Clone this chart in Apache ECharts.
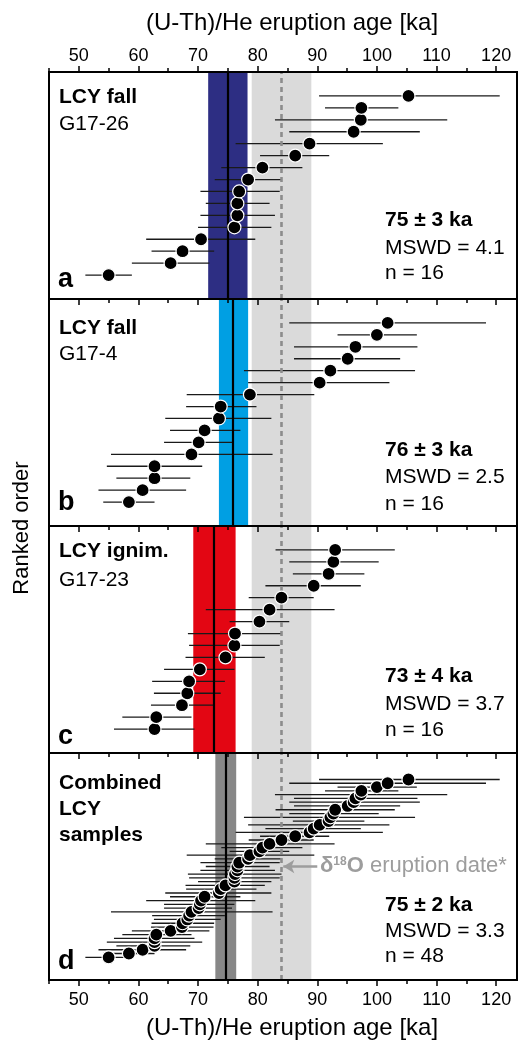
<!DOCTYPE html>
<html>
<head>
<meta charset="utf-8">
<script src="https://cdn.jsdelivr.net/npm/echarts@6/dist/echarts.min.js"></script>
<style>
  html, body { margin: 0; padding: 0; background: #fff; }
  #chart { width: 518px; height: 1048px; }
</style>
</head>
<body>
<div id="chart"></div>
<script>
// axis
var ageMin = 45, ageMax = 123.5
var tickValues = [50, 60, 70, 80, 90, 100, 110, 120]
var minorTickValues = [45, 55, 65, 75, 85, 95, 105, 115]

// single-grain ages, ranked from youngest (bottom) to oldest (top)
var ageA = [55.0, 65.4, 67.4, 70.5, 76.1, 76.6, 76.6, 76.9, 78.4, 80.8, 86.3, 88.7, 96.1, 97.3, 97.4, 105.3]
var loA  = [51.1, 58.9, 62.2, 61.3, 70.0, 70.4, 71.3, 70.4, 72.8, 73.9, 80.4, 76.3, 85.3, 82.9, 91.3, 90.3]
var hiA  = [58.9, 71.9, 72.7, 79.6, 82.3, 82.9, 82.0, 83.7, 84.0, 87.5, 92.0, 101.0, 107.2, 111.8, 103.6, 120.6]

var ageB = [58.4, 60.7, 62.7, 62.7, 68.9, 70.1, 71.1, 73.5, 73.8, 78.7, 90.4, 92.2, 95.1, 96.4, 100.0, 101.8]
var loB  = [54.1, 53.3, 56.3, 54.7, 55.4, 64.3, 65.3, 64.5, 68.0, 68.1, 78.4, 77.7, 86.1, 86.1, 93.4, 85.3]
var hiB  = [62.7, 68.0, 68.7, 70.7, 82.5, 75.7, 77.1, 82.3, 79.8, 89.5, 102.1, 106.4, 103.9, 106.8, 106.7, 118.3]

var ageC = [62.7, 63.0, 67.3, 68.2, 68.5, 70.3, 74.6, 76.1, 76.2, 80.3, 82.0, 84.0, 89.4, 91.9, 92.7, 93.0]
var loC  = [55.9, 57.3, 62.1, 62.6, 62.3, 64.3, 67.9, 68.5, 68.3, 75.3, 71.3, 78.5, 81.3, 85.9, 85.3, 83.0]
var hiC  = [69.4, 68.9, 72.6, 73.8, 74.5, 76.1, 81.2, 83.7, 84.0, 85.3, 92.9, 89.4, 97.3, 97.9, 100.3, 103.0]

// weighted means (a, b, c, combined)
var wmMean = [75.0, 75.9, 72.7, 74.7]
var wmLo   = [71.7, 73.5, 69.2, 72.9]
var wmHi   = [78.3, 78.4, 76.3, 76.4]
var bandColors = ['#2d2e83', '#009fe3', '#e30613', '#878787']

// d18O eruption date
var isoDate = 84, isoLo = 79, isoHi = 89

var panelNames = [['LCY fall', 'G17-26'], ['LCY fall', 'G17-4'], ['LCY ignim.', 'G17-23'], ['Combined', 'LCY', 'samples']]
var panelLetters = ['a', 'b', 'c', 'd']
var statsHead = ['75 ± 3 ka', '76 ± 3 ka', '73 ± 4 ka', '75 ± 2 ka']
var statsMswd = ['MSWD = 4.1', 'MSWD = 2.5', 'MSWD = 3.7', 'MSWD = 3.3']
var statsN = ['n = 16', 'n = 16', 'n = 16', 'n = 48']

// combined panel: all grains of a, b and c ranked together
var combined = []
;[[ageA, loA, hiA], [ageB, loB, hiB], [ageC, loC, hiC]].forEach(function (s) {
  s[0].forEach(function (v, k) { combined.push([v, s[1][k], s[2][k]]) })
})
combined.sort(function (p, q) { return p[0] - q[0] })

var panels = [
  { age: ageA, lo: loA, hi: hiA },
  { age: ageB, lo: loB, hi: hiB },
  { age: ageC, lo: loC, hi: hiC },
  { age: combined.map(function (r) { return r[0] }), lo: combined.map(function (r) { return r[1] }), hi: combined.map(function (r) { return r[2] }) }
]

var FONT = '"Liberation Sans", Arial, Helvetica, sans-serif'
var panelTop = 72, panelH = 227

var grid = [], xAxis = [], yAxis = [], series = [], mainX = []

function makeX(i, pos, ticks, len, isMain, showLabel) {
  return {
    gridIndex: i, type: 'value', position: pos, min: ageMin, max: ageMax, interval: 5, z: 10,
    axisLine: { show: isMain, onZero: false, lineStyle: { color: '#000', width: 2 } },
    axisTick: { show: true, customValues: ticks, length: len, lineStyle: { color: '#000', width: 1.5 } },
    axisLabel: { show: showLabel, customValues: tickValues, fontSize: 18, color: '#000', fontFamily: FONT, margin: pos === 'top' ? 7 : 11 },
    splitLine: { show: false }
  }
}

for (var i = 0; i < 4; i++) {
  grid.push({ left: 49, right: 1, top: panelTop + i * panelH, height: panelH, show: true, borderColor: '#000', borderWidth: 2, backgroundColor: 'rgba(0,0,0,0)' })
  mainX.push(xAxis.length)
  xAxis.push(makeX(i, 'bottom', tickValues, 6, true, i === 3))
  xAxis.push(makeX(i, 'bottom', minorTickValues, 4, false, false))
  if (i === 0) {
    xAxis.push(makeX(i, 'top', tickValues, 6, true, true))
    xAxis.push(makeX(i, 'top', minorTickValues, 4, false, false))
  }
  var n = panels[i].age.length
  yAxis.push({ gridIndex: i, type: 'value', min: n > 16 ? -6 : -2, max: n > 16 ? 54 : 17, show: false })
}

for (var i = 0; i < 4; i++) {
  var p = panels[i]
  var pts = p.age.map(function (v, k) { return [v, k] })
  var bars = p.age.map(function (v, k) { return [p.lo[k], p.hi[k], k] })
  var marks = {
    type: 'line', xAxisIndex: mainX[i], yAxisIndex: i, data: [], silent: true, z: 1,
    markArea: {
      silent: true,
      data: [
        [{ xAxis: isoLo, itemStyle: { color: '#dadada' } }, { xAxis: isoHi }],
        [{ xAxis: wmLo[i], itemStyle: { color: bandColors[i] } }, { xAxis: wmHi[i] }]
      ]
    },
    markLine: {
      silent: true, symbol: 'none', label: { show: false },
      data: [{ xAxis: isoDate, lineStyle: { color: '#8c8c8c', width: 2.6, type: [5, 4] } }]
    }
  }
  if (i === 3) {
    marks.markLine.data.push([
      { coord: [90.0, 24], symbol: 'none', lineStyle: { color: '#9d9d9d', width: 2.5, type: 'solid' } },
      { coord: [84.3, 24], symbol: 'arrow', symbolSize: [10, 11] }
    ])
  }
  series.push(marks)
  series.push({
    type: 'custom', xAxisIndex: mainX[i], yAxisIndex: i, data: bars, z: 3, silent: true,
    encode: { x: [0, 1], y: 2 },
    renderItem: function (params, api) {
      var a = api.coord([api.value(0), api.value(2)])
      var b = api.coord([api.value(1), api.value(2)])
      return { type: 'line', shape: { x1: a[0], y1: a[1], x2: b[0], y2: b[1] }, style: { stroke: '#1a1a1a', lineWidth: 1.3 } }
    }
  })
  series.push({
    type: 'line', xAxisIndex: mainX[i], yAxisIndex: i, data: [], silent: true, z: 4,
    markLine: { silent: true, symbol: 'none', label: { show: false }, data: [{ xAxis: wmMean[i], lineStyle: { color: '#000', width: 2.2, type: 'solid' } }] }
  })
  series.push({
    type: 'scatter', xAxisIndex: mainX[i], yAxisIndex: i, data: pts, z: 5, silent: true,
    symbolSize: 13, itemStyle: { color: '#000', borderColor: '#fff', borderWidth: 1.2, opacity: 1 }
  })
}

// text
var graphic = []
function txt(x, y, s, size, bold, extra) {
  var el = { type: 'text', x: x, y: y, z: 100, style: { text: s, fontSize: size, fontWeight: bold ? 'bold' : 'normal', fontFamily: FONT, fill: '#000', align: 'left', verticalAlign: 'middle' } }
  if (extra) Object.assign(el.style, extra)
  graphic.push(el)
}
txt(292, 23, '(U-Th)/He eruption age [ka]', 24, false, { align: 'center' })
txt(292, 1028, '(U-Th)/He eruption age [ka]', 24, false, { align: 'center' })
graphic.push({ type: 'text', x: 22, y: 528, rotation: Math.PI / 2, z: 100, style: { text: 'Ranked order', fontSize: 22, fontFamily: FONT, fill: '#000', align: 'center', verticalAlign: 'middle' } })

var nameY = [[97, 124], [328, 354], [551, 580], [783, 809, 835]]
var letterY = [280, 503, 737, 962]
var statY = [[220, 248, 273.5], [450.5, 477.5, 504], [676.7, 704, 730], [905, 931, 956]]
for (var i = 0; i < 4; i++) {
  panelNames[i].forEach(function (s, k) {
    txt(59, nameY[i][k], s, 21, i === 3 || k === 0)
  })
  txt(58, letterY[i], panelLetters[i], 27, true)
  txt(385, statY[i][0], statsHead[i], 21, true)
  txt(385, statY[i][1], statsMswd[i], 21, false)
  txt(385, statY[i][2], statsN[i], 21, false)
}
graphic.push({
  type: 'text', x: 320, y: 866, z: 100,
  style: {
    text: '{b|δ}{s|18}{b|O}{r| eruption date*}', verticalAlign: 'middle', align: 'left', fontFamily: FONT,
    rich: {
      b: { fontSize: 22, fontWeight: 'bold', fill: '#9d9d9d', fontFamily: FONT },
      s: { fontSize: 12, fontWeight: 'bold', fill: '#9d9d9d', fontFamily: FONT, verticalAlign: 'top', padding: [1, 0, 0, 0] },
      r: { fontSize: 22, fill: '#9d9d9d', fontFamily: FONT }
    }
  }
})

var myChart = echarts.init(document.getElementById('chart'), null, { renderer: 'canvas' })
myChart.setOption({
  animation: false,
  textStyle: { fontFamily: FONT },
  grid: grid,
  xAxis: xAxis,
  yAxis: yAxis,
  series: series,
  graphic: graphic
})
</script>
</body>
</html>
